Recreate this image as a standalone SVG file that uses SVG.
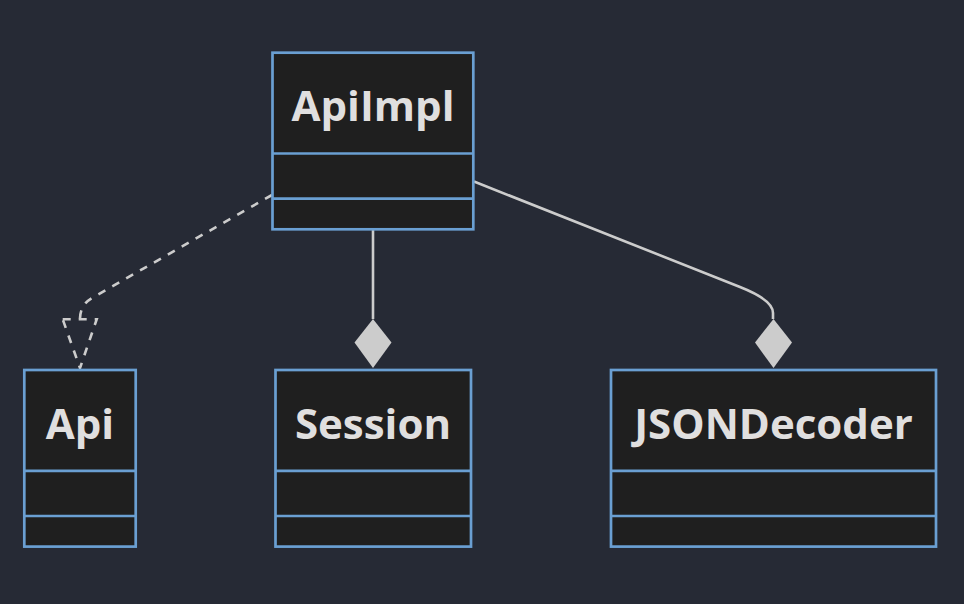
<svg xmlns="http://www.w3.org/2000/svg" width="964" height="604" viewBox="0 0 964 604">
<style>
.box{fill:#1f1f1f;stroke:#6a9fd2;stroke-width:2.7}
.div{stroke:#6a9fd2;stroke-width:2.7}
.lbl{font-family:"Open Sans","DejaVu Sans",sans-serif;font-weight:bold;font-size:42px;fill:#e0dfdf;text-anchor:middle}
.ln{fill:none;stroke:#cccccc;stroke-width:2.6}
.dash{stroke-dasharray:8 8}
.dia{fill:#cccccc;stroke:none}
</style>
<rect width="964" height="604" fill="#262a35"/>
<g id="connectors">
  <path class="ln dash" d="M272,195 L92,298 Q80,305 80,319"/>
  <path class="ln dash" d="M62.7,319.3 L96.7,319.3 L80,368 Z"/>
  <path class="ln" d="M373,229 L373,319"/>
  <path class="dia" d="M373,319 L391.5,342.5 L373,368 L354.5,342.5 Z"/>
  <path class="ln" d="M474,181.5 L740,287 Q773,300 773,313 L773,319"/>
  <path class="dia" d="M773.5,319 L792,342.5 L773.5,368 L755,342.5 Z"/>
</g>
<g id="ApiImpl">
  <rect class="box" x="272.5" y="52.7" width="200.8" height="176.6"/>
  <line class="div" x1="272.5" y1="153.5" x2="473.3" y2="153.5"/>
  <line class="div" x1="272.5" y1="198.7" x2="473.3" y2="198.7"/>
  <text class="lbl" x="373" y="121">ApiImpl</text>
</g>
<g id="Api">
  <rect class="box" x="24.3" y="370" width="111.4" height="176.6"/>
  <line class="div" x1="24.3" y1="470.8" x2="135.7" y2="470.8"/>
  <line class="div" x1="24.3" y1="516" x2="135.7" y2="516"/>
  <text class="lbl" x="80" y="438.5">Api</text>
</g>
<g id="Session">
  <rect class="box" x="275.5" y="370" width="195.5" height="176.6"/>
  <line class="div" x1="275.5" y1="470.8" x2="471" y2="470.8"/>
  <line class="div" x1="275.5" y1="516" x2="471" y2="516"/>
  <text class="lbl" x="373" y="438.5">Session</text>
</g>
<g id="JSONDecoder">
  <rect class="box" x="611" y="370" width="325" height="176.6"/>
  <line class="div" x1="611" y1="470.8" x2="936" y2="470.8"/>
  <line class="div" x1="611" y1="516" x2="936" y2="516"/>
  <text class="lbl" x="773.5" y="438.5">JSONDecoder</text>
</g>
</svg>
